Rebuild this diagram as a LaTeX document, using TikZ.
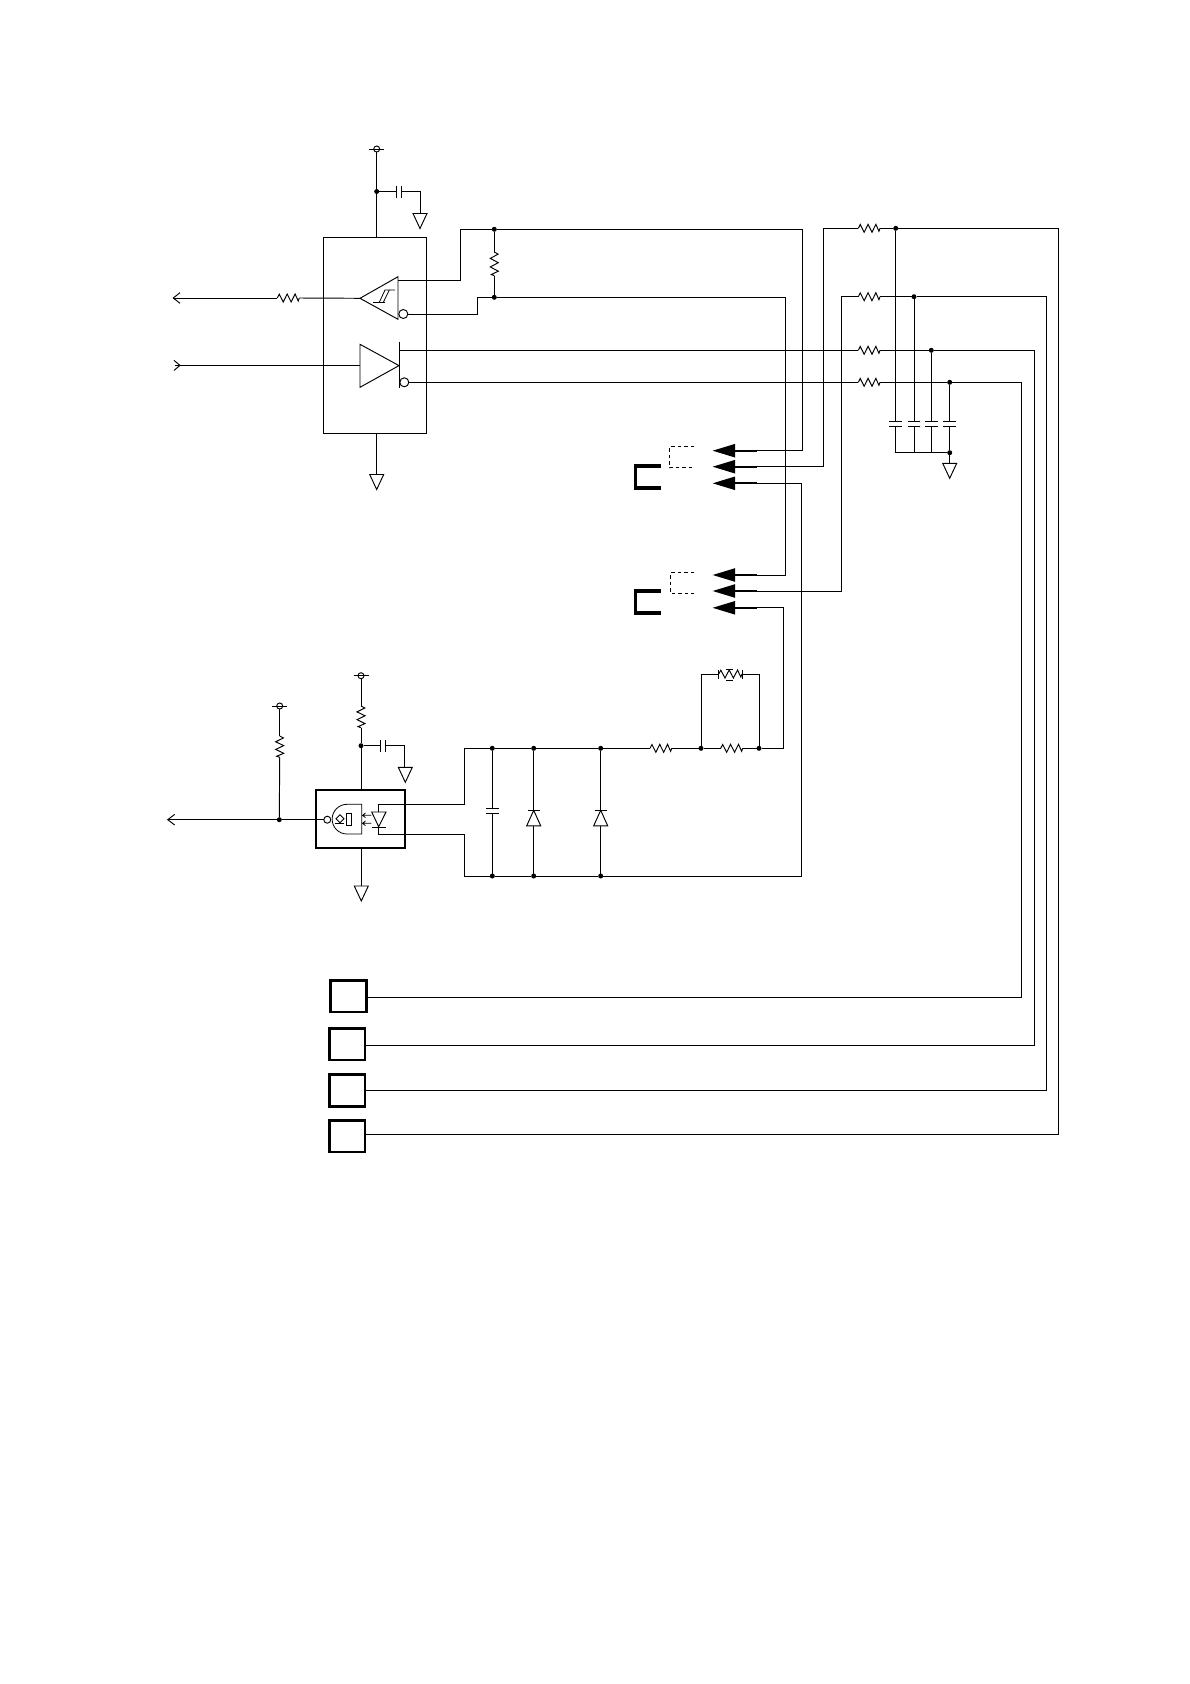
\documentclass[tikz,border=0pt]{standalone}
\usetikzlibrary{calc}
\begin{document}
\begin{tikzpicture}[x=1pt,y=-1pt,line join=miter,
  wire/.style={line width=0.95pt,black},
  thin wire/.style={line width=0.8pt,black},
  stem/.style={line width=1.9pt,black},
  dot/.style={circle,fill=black,inner sep=0pt,minimum size=5pt,outer sep=0pt},
  bubble/.style={circle,draw=black,line width=0.95pt,fill=white,inner sep=0pt,outer sep=0pt},
  ic/.style={draw=black,line width=1pt,inner sep=0pt,outer sep=0pt},
  term/.style={draw=black,line width=2.6pt,inner sep=0pt,outer sep=0pt},
  thickbr/.style={line width=3.4pt,black},
  dashbr/.style={line width=1.4pt,black,dash pattern=on 3.5pt off 3pt}]
\useasboundingbox[fill=white] (0,0) rectangle (1190,1684);

% ---------- helper macros ----------
\newcommand\hres[4]{% name, x1, x2, y
  \coordinate (#1-a) at (#2,#4); \coordinate (#1-b) at (#3,#4);
  \draw[wire] (#1-a) -- ($(#1-a)!0.09!(#1-b)+(0,-3.8)$) -- ($(#1-a)!0.27!(#1-b)+(0,4)$) -- ($(#1-a)!0.45!(#1-b)+(0,-4)$) -- ($(#1-a)!0.63!(#1-b)+(0,4)$) -- ($(#1-a)!0.81!(#1-b)+(0,-4)$) -- ($(#1-a)!0.95!(#1-b)+(0,3)$) -- (#1-b);}
\newcommand\vres[4]{% name, y1, y2, x
  \coordinate (#1-a) at (#4,#2); \coordinate (#1-b) at (#4,#3);
  \draw[wire] (#1-a) -- ($(#1-a)!0.09!(#1-b)+(3.8,0)$) -- ($(#1-a)!0.27!(#1-b)+(-4,0)$) -- ($(#1-a)!0.45!(#1-b)+(4,0)$) -- ($(#1-a)!0.63!(#1-b)+(-4,0)$) -- ($(#1-a)!0.81!(#1-b)+(4,0)$) -- ($(#1-a)!0.95!(#1-b)+(-3,0)$) -- (#1-b);}
\newcommand\gnd[2]{% x, y(top)
  \draw[wire,line join=miter] (#1-7,#2) -- (#1+7,#2) -- (#1,#2+15) -- cycle;}
\newcommand\vcc[3]{% name, x, y
  \coordinate (#1) at (#2,#3);
  \draw[wire] (#2-7.5,#3) -- (#2+7.5,#3);
  \draw[wire] (#1) circle (3pt);}
\newcommand\head[2]{% name, y
  \fill[black] (735,#2-6.8) -- (712.7,#2) -- (735,#2+6.8) -- cycle;
  \draw[stem] (734,#2) -- (756.7,#2);
  \coordinate (#1) at (756.7,#2);}
\newcommand\hcap[3]{% x1 plate, y, half-height
  \draw[wire] (#1,#2-#3) -- (#1,#2+#3);
  \draw[wire] (#1+5,#2-#3) -- (#1+5,#2+#3);}
\newcommand\vcap[2]{% x, y top plate
  \draw[wire] (#1-6.4,#2) -- (#1+6.4,#2);
  \draw[wire] (#1-6.4,#2+5) -- (#1+6.4,#2+5);}
\newcommand\diode[2]{% x, y bar
  \draw[wire] (#1-6,#2) -- (#1+6,#2);
  \draw[wire] (#1,#2) -- (#1-7,#2+15.5) -- (#1+7,#2+15.5) -- cycle;}

% ---------- line driver / receiver IC ----------
\node[ic,minimum width=103pt,minimum height=196.5pt] (ic1) at (375,335.25) {};
\vcc{vccA}{376.7}{149}
\node[dot] (jA) at (376.7,191.5) {};
\draw[wire] (vccA) ++(0,3) -- (jA);
\draw[wire] (jA) -- (ic1.north -| jA);
\hcap{396}{191.5}{6}
\draw[wire] (jA) -- (396,191.5);
\coordinate (gA) at (420,213.5);
\draw[wire] (401,191.5) -| (gA);
\gnd{420}{213.5}
\coordinate (gB) at (376.7,474.5);
\draw[wire] (ic1.south -| gB) -- (gB);
\gnd{376.7}{474.5}

% receiver
\coordinate (rxT) at (360,298.3);
\draw[wire] (rxT) -- (398,276.7) -- (398,319.3) -- cycle;
\draw[thin wire] (373.3,302.3) -- (385,302.3);
\draw[thin wire] (379.3,302.3) -- (385,290) -- (395,290);
\draw[thin wire] (383.3,302.3) -- (389.3,290);
\node[bubble,minimum size=9pt] (rxB) at (403.3,314) {};
% driver
\coordinate (txL) at (360,365.4);
\draw[wire] (360,344.3) -- (399,365.6) -- (360,387.3) -- cycle;
\draw[wire,line width=1.3pt] (399.3,341.7) -- (399.3,388.3);
\node[bubble,minimum size=9pt] (txB) at (404.3,382.3) {};

% left side signals
\coordinate (tipL) at (173.3,298);
\draw[wire] ($(tipL)+(6.7,-5.3)$) -- (tipL) -- ($(tipL)+(6.7,5.3)$);
\hres{rL}{277.3}{299.3}{298}
\draw[wire] (tipL) -- (rL-a);
\draw[wire] (rL-b) -- (rxT);
\coordinate (tipI) at (180,365.4);
\draw[wire] ($(tipI)+(-6,-5)$) -- (tipI) -- ($(tipI)+(-6,5)$);
\draw[wire] (175,365.4) -- (txL);

% termination resistor and receiver outputs
\node[dot] (jB) at (494.3,229.3) {};
\node[dot] (jC) at (494.3,297.3) {};
\vres{rT}{252}{275.7}{494.3}
\draw[wire] (jB) -- (rT-a);
\draw[wire] (rT-b) -- (jC);
\draw[wire] (398,280.3) -- (460.3,280.3) -- (460.3,229.3) -- (jB);
\draw[wire] (rxB.east) -- (477.3,314) -- (477.3,297.3) -- (jC);

% ---------- connector heads ----------
\head{h1}{450.7}
\head{h2}{466.7}
\head{h3}{483.3}
\head{h4}{575}
\head{h5}{591}
\head{h6}{607.8}
\draw[dashbr] (694,446.7) -- (669.3,446.7) -- (669.3,467.7) -- (694,467.7);
\draw[dashbr] (694,572.7) -- (670.7,572.7) -- (670.7,593.7) -- (694,593.7);
\draw[thickbr] (660.7,466) -- (635.7,466) -- (635.7,488) -- (660.7,488);
\draw[thickbr] (660.7,591) -- (635.7,591) -- (635.7,613) -- (660.7,613);

% bus wires to the heads
\draw[wire] (jB) -- (802.3,229.3) -- (802.3,450.7) -- (h1);
\draw[wire] (jC) -- (785.7,297.3) -- (785.7,575) -- (h4);

% ---------- right-hand filter ----------
\hres{r1}{858.3}{880}{228.3}
\hres{r2}{858.3}{880}{296.7}
\hres{r3}{858.3}{880}{350.3}
\hres{r4}{858.3}{880}{382.3}
\node[dot] (j1) at (895.7,228.3) {};
\node[dot] (j2) at (914,296.7) {};
\node[dot] (j3) at (931.3,350.3) {};
\node[dot] (j4) at (949.7,382.3) {};
\draw[wire] (h2) -- (823.3,466.7) -- (823.3,228.3) -- (r1-a);
\draw[wire] (h5) -- (841.3,591) -- (841.3,296.7) -- (r2-a);
\draw[wire] (399.3,350.3) -- (r3-a);
\draw[wire] (txB.east) -- (r4-a);
\draw[wire] (r1-b) -- (j1);
\draw[wire] (r2-b) -- (j2);
\draw[wire] (r3-b) -- (j3);
\draw[wire] (r4-b) -- (j4);
\foreach \j/\x in {j1/895.7,j2/914,j3/931.3,j4/949.7}{
  \draw[wire] (\j) -- (\x,421);
  \vcap{\x}{421}
}
\node[dot] (jG) at (949.7,452.7) {};
\foreach \x in {895,914,931.3}{\draw[wire] (\x,426) -- (\x,452.7);}
\draw[wire] (949.7,426) -- (jG);
\draw[wire] (895,452.7) -- (jG);
\coordinate (gC) at (949.7,463.3);
\draw[wire] (jG) -- (gC);
\gnd{949.7}{463.3}

% ---------- terminals ----------
\node[term,minimum width=35.6pt,minimum height=31.3pt] (t1) at (348.5,996.3) {};
\node[term,minimum width=35.3pt,minimum height=31.3pt] (t2) at (347.3,1044.3) {};
\node[term,minimum width=35.3pt,minimum height=32pt] (t3) at (347.3,1090.7) {};
\node[term,minimum width=35.3pt,minimum height=31.3pt] (t4) at (347.3,1136.3) {};
\coordinate (c1) at (1021.7,997.7);
\coordinate (c2) at (1034.3,1045.3);
\coordinate (c3) at (1046.7,1090.3);
\coordinate (c4) at (1058.3,1134.3);
\draw[wire] (j4) -- (1021.7,382.3) -- (c1) -- (t1.east |- c1);
\draw[wire] (j3) -- (1034.3,350.3) -- (c2) -- (t2.east |- c2);
\draw[wire] (j2) -- (1046.7,296.7) -- (c3) -- (t3.east |- c3);
\draw[wire] (j1) -- (1058.3,228.3) -- (c4) -- (t4.east |- c4);

% ---------- opto-coupler ----------
\node[term,minimum width=89pt,minimum height=58pt] (opto) at (360.5,819) {};
\vcc{vccB}{279.7}{706}
\vcc{vccC}{361}{675.7}
\vres{rB}{736}{757.3}{279.7}
\vres{rC}{706}{727.7}{361}
\node[dot] (jO) at (279.3,819.7) {};
\node[dot] (jP) at (361,745.7) {};
\draw[wire] (vccB) ++(0,3) -- (rB-a);
\draw[wire] (rB-b) -- (jO);
\draw[wire] (vccC) ++(0,3) -- (rC-a);
\draw[wire] (rC-b) -- (jP);
\draw[wire] (jP) -- (opto.north -| jP);
\hcap{380.7}{745.7}{5.8}
\draw[wire] (jP) -- (380.7,745.7);
\draw[wire] (385.7,745.7) -- (404.3,745.7) -- (404.3,767.3);
\gnd{405.3}{767.3}
\draw[wire] (opto.south -| jP) -- (361,886);
\gnd{361.3}{886}
% output and arrow
\coordinate (tipO) at (167.7,819.7);
\draw[wire] ($(tipO)+(7,-5.3)$) -- (tipO) -- ($(tipO)+(7,5.3)$);
\node[bubble,minimum size=7pt] (oB) at (327.3,819.7) {};
\draw[wire] (tipO) -- (jO);
\draw[wire] (jO) -- (oB.west);
% gate inside
\draw[thin wire] (361.7,804.3) -- (347,804.3) arc (90:270:14.85pt) -- (361.7,834) -- cycle;
\draw[thin wire] (340,814.8) -- (344,818.8) -- (340,822.8) -- (336,818.8) -- cycle;
\draw[thin wire] (335,823.3) -- (344,823.3);
\draw[thin wire] (346,813.6) rectangle (351.7,825);
\draw[line width=0.8pt] (371.3,815.3) -- (363,815.3) (365.5,813) -- (362.5,815.3) -- (365.5,817.6);
\draw[line width=0.8pt] (371.3,823.3) -- (363,823.3) (365.5,821) -- (362.5,823.3) -- (365.5,825.6);
\draw[wire] (371.7,812) -- (386,812) -- (378.7,826.7) -- cycle;
\draw[wire] (371.7,827) -- (386,827);

% ---------- input network ----------
\node[dot] (b1) at (492.3,748.3) {};
\node[dot] (b2) at (533.7,748.3) {};
\node[dot] (b3) at (600.7,748.3) {};
\node[dot] (b4) at (701,748.3) {};
\node[dot] (b5) at (759,748.3) {};
\node[dot] (c5) at (492.3,876) {};
\node[dot] (c6) at (533.7,876) {};
\node[dot] (c7) at (600.7,876) {};
\hres{rS}{650}{671.7}{748.3}
\hres{rP}{720.7}{742.7}{748.3}
\hres{rV}{718.7}{742}{674}
% varistor decoration
\draw[thin wire] (718.7,670) -- (718.7,679);
\draw[thin wire] (742,670) -- (742,679);
\draw[thin wire] (726,669.5) -- (733,669.5);
\draw[thin wire] (726,680) -- (733,680);
% wires
\draw[wire] (378.7,812) -- (378.7,804.3) -- (464.7,804.3) -- (464.7,748.3) -- (b1);
\draw[wire] (378.7,827) -- (378.7,834) -- (464,834) -- (464,876) -- (c5);
\draw[wire] (b1) -- (b2);
\draw[wire] (b2) -- (b3);
\draw[wire] (b3) -- (rS-a);
\draw[wire] (rS-b) -- (b4);
\draw[wire] (b4) -- (rP-a);
\draw[wire] (rP-b) -- (b5);
\draw[wire] (b4) -- (701,674) -- (rV-a);
\draw[wire] (rV-b) -- (759,674) -- (b5);
\draw[wire] (b5) -- (783.3,748.3) -- (783.3,607.8) -- (h6);
\draw[wire] (c5) -- (c6);
\draw[wire] (c6) -- (c7);
\draw[wire] (c7) -- (801.7,876) -- (801.7,483.3) -- (h3);
% capacitor and diodes
\draw[wire] (b1) -- (492.3,808.7);
\draw[wire] (492.3,813.7) -- (c5);
\draw[wire] (486,808.7) -- (498.6,808.7);
\draw[wire] (486,813.7) -- (498.6,813.7);
\draw[wire] (b2) -- (533.7,810.3);
\draw[wire] (533.7,825.8) -- (c6);
\diode{533.7}{810.3}
\draw[wire] (b3) -- (600.7,810.3);
\draw[wire] (600.7,825.8) -- (c7);
\diode{600.7}{810.3}
\end{tikzpicture}
\end{document}
